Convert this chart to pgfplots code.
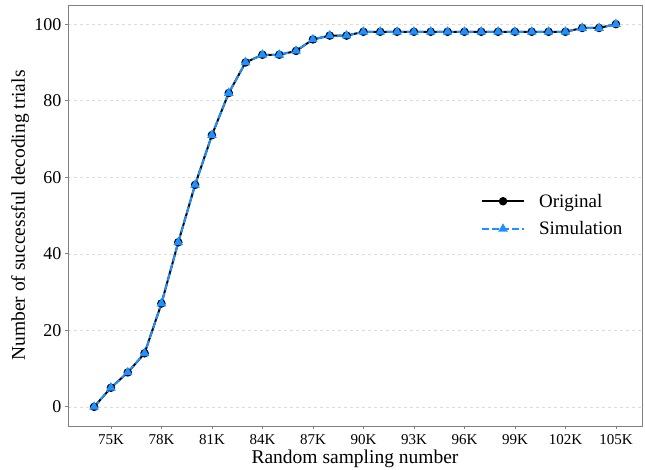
\documentclass[border=0pt]{standalone}
\usepackage{fontspec}
\setmainfont{Liberation Serif}
\usepackage{pgfplots}
\pgfplotsset{compat=1.18}
\definecolor{simblue}{RGB}{30,144,255}
\definecolor{framegray}{RGB}{127,127,127}
\definecolor{gridgray}{RGB}{220,220,220}

\begin{document}
\begin{tikzpicture}[x=1pt,y=1pt]
\useasboundingbox (-68,-43) rectangle (577,426);
\begin{axis}[
  at={(0,0)}, anchor=south west,
  scale only axis, width=574pt, height=421pt,
  xmin=72.45, xmax=106.55, ymin=-5, ymax=105,
  axis line style={framegray, line width=0.8pt},
  xtick={75,78,...,105},
  xticklabels={75K,78K,81K,84K,87K,90K,93K,96K,99K,102K,105K},
  ytick={0,20,...,100},
  tick align=outside, major tick length=3pt,
  tick style={framegray, line width=0.8pt},
  xtick pos=bottom, ytick pos=left,
  ymajorgrids,
  major grid style={gridgray, dashed, line width=0.5pt},
  /pgf/number format/assume math mode=true,
  xticklabel style={font=\fontsize{15}{17}\selectfont, black, yshift=-2pt},
  yticklabel style={font=\fontsize{18}{20}\selectfont, black},
  xlabel={Random sampling number},
  ylabel={Number of successful decoding trials},
  label style={font=\fontsize{19.5}{22}\selectfont},
  xlabel style={at={(axis description cs:0.5,-0.0879)}, anchor=base},
  ylabel style={at={(axis description cs:-0.0836,0.5)}, anchor=center},
  legend cell align=left,
  legend image code/.code={\draw[mark repeat=2,mark phase=2] plot coordinates {(0pt,0pt) (21pt,0pt) (42pt,0pt)};},
  legend style={draw=none, fill=none, at={(axis description cs:0.714,0.501)}, anchor=west,
    font=\fontsize{19}{22}\selectfont, row sep=9pt,
    /tikz/every odd column/.append style={column sep=12pt}},
]
\addplot[black, line width=2pt, mark=*, mark size=3.2pt] coordinates {
(74,0) (75,5) (76,9) (77,14) (78,27) (79,43) (80,58) (81,71) (82,82) (83,90)
(84,92) (85,92) (86,93) (87,96) (88,97) (89,97) (90,98) (91,98) (92,98) (93,98)
(94,98) (95,98) (96,98) (97,98) (98,98) (99,98) (100,98) (101,98) (102,98) (103,99)
(104,99) (105,100)};
\addlegendentry{Original}
\addplot[simblue, line width=2pt, dash pattern=on 7pt off 3pt, mark=triangle*, mark size=3.6pt,
  mark options={solid}] coordinates {
(74,0) (75,5) (76,9) (77,14) (78,27) (79,43) (80,58) (81,71) (82,82) (83,90)
(84,92) (85,92) (86,93) (87,96) (88,97) (89,97) (90,98) (91,98) (92,98) (93,98)
(94,98) (95,98) (96,98) (97,98) (98,98) (99,98) (100,98) (101,98) (102,98) (103,99)
(104,99) (105,100)};
\addlegendentry{Simulation}
\end{axis}
\end{tikzpicture}
\end{document}
